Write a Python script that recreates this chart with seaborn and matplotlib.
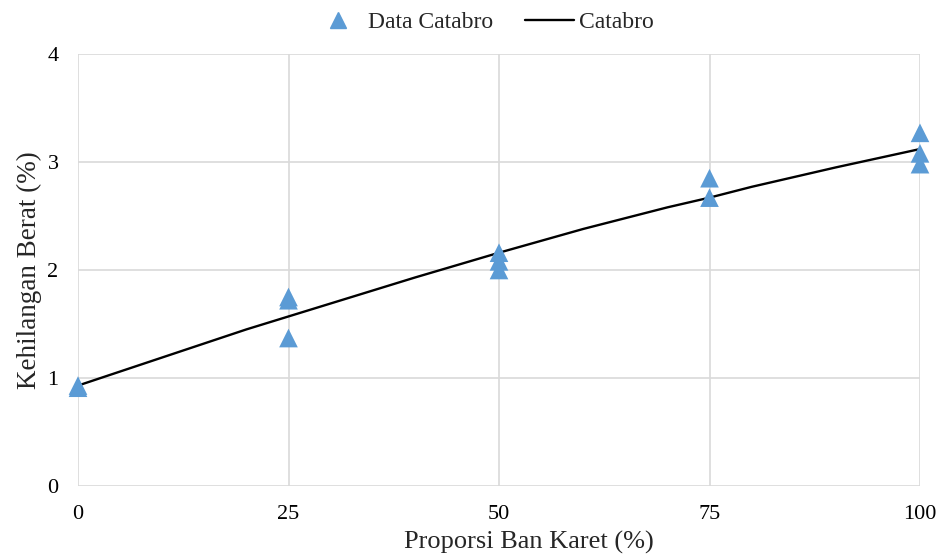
import matplotlib
matplotlib.use("Agg")
import matplotlib.pyplot as plt
import seaborn as sns
import pandas as pd
from matplotlib.lines import Line2D

# Data
prop_x = [0, 0, 25, 25, 25, 50, 50, 50, 75, 75, 100, 100, 100]
loss_y = [0.91, 0.93, 1.75, 1.72, 1.37, 2.16, 2.08, 2.00, 2.85, 2.67, 3.27, 3.08, 2.98]
line_x = [0, 10, 20, 30, 40, 50, 60, 70, 75, 80, 90, 100]
line_y = [0.93, 1.19, 1.45, 1.69, 1.93, 2.16, 2.38, 2.58, 2.67, 2.77, 2.95, 3.12]
xticks = [0, 25, 50, 75, 100]
yticks = [0, 1, 2, 3, 4]

sns.set_theme(style="white")
plt.rcParams['font.family'] = ['Liberation Serif', 'DejaVu Serif']

fig = plt.figure(figsize=(9.41, 5.55), dpi=100)
ax = fig.add_axes([78/941, 1-486/555, (920-78)/941, (486-54)/555])

df_pts = pd.DataFrame({"x": prop_x, "y": loss_y})
df_line = pd.DataFrame({"x": line_x, "y": line_y})

sns.lineplot(data=df_line, x="x", y="y", ax=ax, color="black", linewidth=1.7, zorder=3)
sns.scatterplot(data=df_pts, x="x", y="y", ax=ax, marker="^", s=180, color="#5B9BD5",
                edgecolor="none", zorder=4, clip_on=False)

ax.set_xlim(0, 100)
ax.set_ylim(0, 4)
ax.set_xticks(xticks)
ax.set_yticks(yticks)
ax.grid(True, color="#D9D9D9", linewidth=1.2)
ax.set_axisbelow(True)
for s in ax.spines.values():
    s.set_visible(False)
ax.tick_params(axis="both", length=0, labelsize=16, colors="black")
ax.tick_params(axis="y", pad=14)
ax.tick_params(axis="x", pad=14)
ax.set_xlabel("Proporsi Ban Karet (%)", fontsize=19, labelpad=5)
ax.xaxis.label.set_x(0.536)
ax.set_ylabel("Kehilangan Berat (%)", fontsize=19.5, labelpad=4)

handles = [Line2D([], [], marker="^", linestyle="none", color="#5B9BD5", markersize=11),
           Line2D([], [], color="black", linewidth=1.7)]
fig.legend(handles, ["Data Catabro", "Catabro"], loc="upper center", ncol=2,
           bbox_to_anchor=(0.514, 1.017), frameon=False, fontsize=17,
           handlelength=2.1, handletextpad=0.2, columnspacing=1.35)

fig.savefig("out.png", dpi=100)
